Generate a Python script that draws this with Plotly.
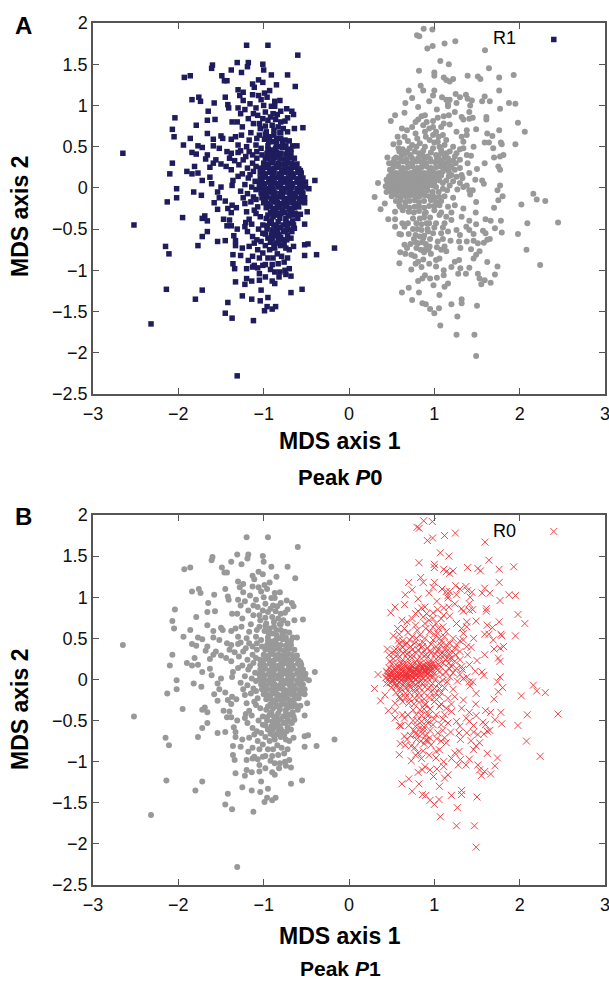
import plotly.graph_objects as go

left_sparse = [
(-1.20,1.73),(-0.95,1.73),(-0.60,1.61),(-1.60,1.49),(-1.61,1.45),(-1.31,1.52),(-1.18,1.52),(-1.19,1.47),(-1.01,1.50),(-1.00,1.43),
(-1.38,1.43),(-1.26,1.40),(-1.49,1.36),(-1.46,1.30),(-1.43,1.30),(-1.86,1.36),(-1.93,1.34),(-0.91,1.37),(-0.72,1.37),(-0.85,1.25),
(-0.63,1.23),(-1.06,1.31),(-1.01,1.28),(-1.13,1.26),(-1.11,1.22),(-1.30,1.19),(-1.24,1.16),(-1.28,1.12),(-1.13,1.13),(-1.06,1.12),
(-0.99,1.15),(-0.93,1.18),(-1.03,1.07),(-0.96,1.10),(-1.76,1.10),(-1.84,1.07),(-1.74,1.05),(-1.45,1.10),(-1.58,1.03),(-1.42,1.01),
(-1.41,0.97),(-1.24,1.06),(-0.87,1.05),(-0.81,1.06),(-0.91,0.99),(-0.87,0.99),(-1.30,0.97),(-1.22,0.95),(-1.09,0.97),(-1.65,0.93),
(-1.27,0.90),(-0.73,0.96),(-0.67,0.93),(-0.65,0.89),(-0.89,0.90),(-0.84,0.89),(-2.04,0.85),(-1.57,0.83),(-1.66,0.82),(-1.18,0.84),
(-1.07,0.88),(-1.01,0.84),(-0.95,0.82),(-0.72,0.85),(-0.75,0.81),(-1.37,0.80),(-1.31,0.80),(-1.79,0.76),(-1.25,0.74),(-1.05,0.78),
(-0.90,0.76),(-2.07,0.71),(-0.64,0.72),(-0.54,0.73),(-1.66,0.66),(-1.15,0.67),(-0.97,0.68),(-0.81,0.67),(-2.05,0.62),(-1.86,0.60),
(-1.50,0.63),(-1.48,0.60),(-1.59,0.59),(-1.38,0.59),(-1.33,0.62),(-1.26,0.64),(-1.05,0.64),(-0.93,0.62),(-1.17,0.58),(-1.94,0.52),
(-1.59,0.51),(-1.52,0.48),(-1.77,0.51),(-1.72,0.49),(-1.30,0.52),(-1.20,0.50),(-1.09,0.52),(-0.85,0.54),(-0.66,0.51),(-0.61,0.51),
(-2.65,0.42),(-1.84,0.43),(-1.79,0.41),(-1.66,0.40),(-1.68,0.35),(-1.43,0.44),(-1.38,0.42),(-1.30,0.43),(-1.17,0.44),(-1.40,0.36),
(-2.07,0.30),(-1.81,0.26),(-1.56,0.34),(-1.59,0.30),(-1.63,0.25),(-1.50,0.29),(-1.44,0.26),(-1.38,0.22),(-1.90,0.20),(-1.84,0.17),
(-1.77,0.18),(-2.10,0.17),(-1.63,0.13),(-1.72,0.09),(-1.61,0.05),(-1.36,0.09),(-1.37,0.03),(-1.50,0.01),(-1.54,-0.05),(-2.02,-0.01),
(-2.02,-0.12),(-1.82,-0.05),(-1.73,-0.09),(-2.13,-0.17),(-0.40,0.09),(-0.47,-0.01),(-0.51,0.07),
(-1.58,-0.18),(-1.54,-0.26),(-1.52,-0.12),(-1.45,-0.16),(-1.37,-0.21),(-1.32,-0.24),(-1.42,-0.25),(-1.38,-0.30),(-1.22,-0.19),(-1.20,-0.29),
(-1.11,-0.27),(-1.07,-0.23),(-1.95,-0.36),(-1.69,-0.34),(-1.72,-0.37),(-1.66,-0.40),(-2.52,-0.45),(-1.47,-0.38),(-1.40,-0.39),(-1.43,-0.46),
(-1.38,-0.46),(-1.31,-0.50),(-1.17,-0.38),(-1.21,-0.42),(-1.22,-0.47),(-1.19,-0.53),(-1.66,-0.53),(-1.72,-0.59),(-1.35,-0.58),(-1.33,-0.64),
(-1.33,-0.70),(-1.54,-0.65),(-1.45,-0.64),(-2.15,-0.71),(-1.77,-0.70),(-2.11,-0.80),(-1.36,-0.81),(-1.27,-0.82),(-1.25,-0.73),(-1.36,-0.92),
(-1.34,-0.98),(-1.20,-0.98),(-1.18,-0.88),(-1.13,-0.96),(-1.11,-0.94),(-1.33,-1.14),(-1.20,-1.10),(-1.22,-1.17),(-1.14,-1.13),(-1.05,-1.12),
(-1.05,-1.04),(-0.98,-1.08),(-0.90,-1.13),(-0.87,-1.16),(-2.14,-1.23),(-1.72,-1.24),(-1.03,-1.24),(-0.68,-1.27),(-0.55,-1.23),(-1.80,-1.35),
(-1.25,-1.31),(-1.14,-1.35),(-1.04,-1.37),(-0.95,-1.33),(-1.42,-1.39),(-0.96,-1.44),(-0.86,-1.44),(-0.90,-1.47),(-0.99,-1.49),(-1.45,-1.52),
(-1.37,-1.58),(-1.12,-1.61),(-2.32,-1.65),(-1.31,-2.28),(-0.17,-0.73),(-0.38,-0.81),(-0.52,-0.82),(-0.52,-0.69),(-0.48,-0.68),(-0.52,-0.44),
(-0.49,-0.29),(-0.60,-0.37),(-0.57,-0.32),(-0.64,-0.49),(-0.68,-0.61),(-0.65,-0.71),(-0.70,-0.75),(-0.72,-0.85),(-0.70,-0.98),(-0.68,-1.07),
(-0.75,-1.00),(-0.81,-1.02),(-0.87,-1.02),(-0.90,-0.93),(-0.83,-0.92),(-0.89,-0.85),(-0.79,-0.83),(-1.01,-0.94),(-1.05,-0.85),(-1.13,-0.83),
(-1.07,-0.75),(-1.01,-0.79),(-0.93,-0.75),(-1.17,-0.71),(-1.11,-0.67),(-1.03,-0.65),(-0.95,-0.61),(-0.85,-0.67),(-0.79,-0.63),(-0.74,-0.73),
(-0.87,-0.73),(-1.01,-0.55),(-1.13,-0.59),(-0.91,-0.57),(-0.77,-0.53),(-0.70,-0.51),(-1.01,-0.45),(-0.93,-0.43),(-0.85,-0.47),(-0.77,-0.45),
(-0.70,-0.43),(-0.97,-0.37),(-0.89,-0.35),(-0.81,-0.37),(-0.74,-0.37),(-0.66,-0.33),
(-1.04,0.72),(-0.98,0.75),(-0.88,0.70),(-0.83,0.74),(-0.77,0.72),(-0.72,0.68),(-0.99,0.59),(-0.90,0.56),(-0.80,0.60),(-0.75,0.58),
(-1.03,0.48),(-0.95,0.51),(-0.90,0.46),(-0.78,0.49),(-0.72,0.46),(-1.02,0.40),(-1.08,0.36),(-1.13,0.30),(-1.24,0.34),(-1.29,0.28),
(-1.19,0.24),(-1.12,0.20),(-1.25,0.17),(-1.18,0.12),(-1.10,0.08),(-1.22,0.04),(-1.14,0.01),(-1.27,-0.04),(-1.19,-0.07),(-1.12,-0.11),(-1.24,-0.12),(-1.15,-0.17),
(-1.08,0.44),(-1.13,0.40),(-1.21,0.38),(-1.27,0.45),(-1.34,0.33),(-1.09,0.26),(-1.16,0.16),(-1.30,0.14),(-1.09,-0.02),(-1.09,-0.14),
(-1.09,-0.31),(-1.04,-0.35),(-1.14,-0.44),(-1.06,-0.50),(-0.96,-0.50),(-0.88,-0.54),(-0.82,-0.57),(-0.92,-0.66),(-0.98,-0.70),(-0.80,-0.70),
(-0.72,-0.58),(-0.84,-0.80),(-0.95,-0.85),(-0.98,-0.93),(-0.76,-0.90),(-0.92,-0.99),(-1.07,-0.97),(-0.82,-1.08),(-0.74,-1.05),(-1.08,-0.63),
(-0.86,0.83),(-0.80,0.80),(-0.98,0.92),(-0.92,0.86),(-1.12,0.78),(-1.00,1.00),(-1.16,1.02),(-0.80,0.93),(-1.12,0.90),(-1.08,0.60),
]

left_dense = [
(-0.96,0.42),(-0.91,0.41),(-0.85,0.43),(-0.80,0.42),(-0.74,0.41),(-0.68,0.42),
(-0.98,0.36),(-0.92,0.35),(-0.87,0.37),(-0.81,0.36),(-0.76,0.35),(-0.70,0.37),(-0.64,0.36),
(-1.00,0.30),(-0.94,0.29),(-0.89,0.31),(-0.83,0.30),(-0.78,0.29),(-0.72,0.31),(-0.67,0.30),(-0.61,0.29),
(-1.04,0.24),(-0.98,0.25),(-0.93,0.23),(-0.87,0.24),(-0.82,0.25),(-0.76,0.23),(-0.71,0.24),(-0.65,0.25),(-0.59,0.23),
(-1.04,0.18),(-0.99,0.17),(-0.93,0.19),(-0.88,0.18),(-0.82,0.17),(-0.77,0.19),(-0.71,0.18),(-0.66,0.17),(-0.60,0.19),(-0.56,0.18),
(-1.04,0.12),(-0.98,0.13),(-0.93,0.11),(-0.87,0.12),(-0.82,0.13),(-0.76,0.11),(-0.71,0.12),(-0.65,0.13),(-0.60,0.11),(-0.54,0.12),
(-1.05,0.06),(-0.99,0.05),(-0.94,0.07),(-0.88,0.06),(-0.83,0.05),(-0.77,0.07),(-0.72,0.06),(-0.66,0.05),(-0.61,0.07),(-0.55,0.06),
(-1.05,0.00),(-1.00,0.01),(-0.94,-0.01),(-0.89,0.00),(-0.83,0.01),(-0.78,-0.01),(-0.72,0.00),(-0.67,0.01),(-0.61,-0.01),(-0.56,0.00),(-0.51,0.01),
(-1.03,-0.06),(-0.98,-0.07),(-0.92,-0.05),(-0.87,-0.06),(-0.81,-0.07),(-0.76,-0.05),(-0.70,-0.06),(-0.65,-0.07),(-0.59,-0.05),(-0.54,-0.06),
(-1.02,-0.12),(-0.96,-0.11),(-0.91,-0.13),(-0.85,-0.12),(-0.80,-0.11),(-0.74,-0.13),(-0.69,-0.12),(-0.63,-0.11),(-0.58,-0.13),(-0.52,-0.12),
(-1.00,-0.18),(-0.95,-0.19),(-0.89,-0.17),(-0.84,-0.18),(-0.78,-0.19),(-0.73,-0.17),(-0.67,-0.18),(-0.62,-0.19),(-0.56,-0.17),(-0.52,-0.18),
(-0.97,-0.24),(-0.92,-0.23),(-0.86,-0.25),(-0.81,-0.24),(-0.75,-0.23),(-0.70,-0.25),(-0.64,-0.24),(-0.59,-0.23),
(-0.92,-0.30),(-0.86,-0.29),(-0.80,-0.31),(-0.75,-0.30),(-0.69,-0.29),(-0.63,-0.31),
(-0.93,0.39),(-0.83,0.39),(-0.72,0.39),(-0.96,0.27),(-0.85,0.27),(-0.74,0.27),(-0.63,0.27),(-1.01,0.21),(-0.90,0.21),(-0.79,0.21),(-0.68,0.21),(-0.57,0.21),
(-1.01,0.15),(-0.90,0.15),(-0.79,0.15),(-0.68,0.15),(-0.57,0.15),(-1.02,0.09),(-0.91,0.09),(-0.80,0.09),(-0.69,0.09),(-0.58,0.09),(-1.03,0.03),(-0.92,0.03),(-0.80,0.03),(-0.69,0.03),(-0.58,0.03),
(-1.00,-0.03),(-0.89,-0.03),(-0.79,-0.03),(-0.68,-0.03),(-0.57,-0.03),(-1.00,-0.09),(-0.89,-0.09),(-0.78,-0.09),(-0.67,-0.09),(-0.56,-0.09),(-0.98,-0.15),(-0.87,-0.15),(-0.76,-0.15),(-0.65,-0.15),(-0.54,-0.15),
(-0.95,-0.21),(-0.84,-0.21),(-0.73,-0.21),(-0.61,-0.21),(-0.89,-0.27),(-0.78,-0.27),(-0.67,-0.27),
(-0.95,-0.33),(-0.84,-0.33),(-0.71,-0.34),(-0.91,-0.40),(-0.83,-0.41),(-0.74,-0.41),(-0.66,-0.40),(-0.96,-0.46),(-0.88,-0.45),(-0.80,-0.48),(-0.72,-0.47),(-0.65,-0.45),
(-0.90,-0.51),(-0.84,-0.52),(-0.74,-0.52),(-0.67,-0.53),(-0.98,-0.56),(-0.86,-0.58),(-0.80,-0.60),(-0.73,-0.63),(-0.90,-0.62),(-0.83,-0.64),(-0.76,-0.68),(-0.88,-0.69),
(-0.95,0.47),(-0.86,0.48),(-0.82,0.50),(-0.74,0.51),(-0.68,0.47),(-0.94,0.56),(-0.85,0.60),(-0.78,0.55),(-0.70,0.57),(-0.98,0.65),(-0.88,0.64),(-0.80,0.67),
]

right_sparse = [
(0.875,1.93),(0.977,1.92),(0.797,1.85),(0.824,1.84),(0.918,1.69),(0.98,1.72),(1.12,1.75),(1.246,1.78),(1.594,1.67),(1.07,1.54),
(1.17,1.50),(1.64,1.45),(0.82,1.42),(1.0,1.40),(1.0,1.36),(1.11,1.34),(1.14,1.31),(1.18,1.29),(1.22,1.32),(1.39,1.36),
(1.51,1.35),(1.54,1.32),(1.76,1.34),(1.93,1.37),(0.84,1.24),(0.70,1.18),(0.87,1.18),(1.0,1.18),(0.985,1.12),(1.76,1.18),
(0.74,1.09),(0.94,1.05),(0.66,1.03),(1.09,1.10),(1.14,1.07),(1.18,1.07),(1.16,1.02),(1.16,0.99),(1.25,1.14),(1.30,1.10),
(1.26,1.03),(1.37,1.13),(1.39,1.08),(1.44,1.06),(1.42,1.0),(1.59,1.11),(1.56,1.05),(1.65,1.05),(1.875,1.03),(1.95,1.02),
(1.77,0.96),(0.81,0.98),(1.03,0.95),(0.65,0.91),(0.54,0.88),(0.49,0.81),(1.24,0.92),(1.41,0.92),(0.85,0.87),(0.89,0.88),
(0.81,0.83),(0.78,0.80),(0.91,0.80),(0.985,0.81),(1.04,0.85),(1.11,0.87),(1.17,0.88),(1.32,0.86),(1.34,0.83),(1.41,0.84),
(1.45,0.85),(1.61,0.86),(1.61,0.83),(1.98,0.79),(0.74,0.74),(0.62,0.72),(0.87,0.76),(0.985,0.74),(1.08,0.74),(1.18,0.77),
(1.11,0.78),(1.26,0.68),(1.38,0.70),(1.49,0.71),(1.76,0.70),(2.06,0.68),(0.78,0.66),(0.89,0.68),(0.985,0.64),(1.10,0.64),
(0.57,0.62),(0.65,0.62),(1.62,0.66),(1.68,0.63),(1.32,0.62),(1.38,0.64),(1.34,0.56),(0.69,0.57),(0.59,0.55),(0.52,0.53),
(0.83,0.54),(0.945,0.58),(1.04,0.56),(1.14,0.58),(1.59,0.55),(1.64,0.55),(1.78,0.55),(1.79,0.53),(1.95,0.53),(1.46,0.50),
(1.69,0.48),(1.34,0.48),(0.59,0.44),(0.63,0.47),(0.71,0.48),(0.79,0.50),(0.89,0.50),(0.985,0.48),(1.08,0.46),(1.18,0.44),
(1.26,0.42),(1.38,0.40),(1.43,0.39),(1.70,0.37),(1.77,0.38),(1.81,0.40),(0.45,0.37),(0.47,0.30),(1.59,0.30),(1.75,0.26),
(1.77,0.22),(0.48,0.22),(1.30,0.34),(1.39,0.30),(1.50,0.23),(1.41,0.18),(1.48,0.10),(1.56,0.09),(1.58,0.05),(0.34,0.06),
(0.44,0.10),(0.44,-0.05),(0.30,-0.11),(1.77,0.03),(1.74,-0.03),(1.80,-0.10),(1.75,-0.15),(1.34,0.01),(1.38,0.03),(1.41,-0.03),
(1.45,-0.03),(1.42,-0.08),(1.49,-0.17),(2.16,-0.07),(2.20,-0.14),(2.30,-0.16),(2.02,-0.20),(1.70,-0.24),(1.20,0.155),(1.26,0.135),
(1.32,0.155),(0.37,-0.26),(0.42,-0.19),(0.46,-0.38),(0.54,-0.38),(0.54,-0.47),(0.59,-0.56),(0.61,-0.565),(0.70,-0.56),(0.625,-0.43),
(0.65,-0.69),(0.68,-0.73),(0.60,-0.78),(0.59,-0.915),(0.73,-0.99),(0.73,-0.81),(0.77,-0.83),(0.81,-0.895),(0.87,-0.87),(0.94,-0.92),
(0.85,-0.96),(0.89,-1.06),(0.86,-1.10),(0.81,-1.13),(0.95,-1.10),(1.03,-1.09),(0.70,-1.21),(0.62,-1.27),(0.82,-1.27),(0.99,-1.18),
(1.12,-1.20),(1.16,-1.16),(1.06,-1.30),(0.74,-1.36),(0.86,-1.40),(0.90,-1.41),(0.95,-1.47),(1.055,-1.46),(1.0,-1.52),(1.20,-1.41),
(1.32,-1.35),(1.32,-1.40),(1.50,-1.43),(1.27,-1.56),(1.07,-1.67),(1.26,-1.78),(1.47,-1.78),(1.49,-2.04),(2.45,-0.42),(2.24,-0.935),
(2.08,-0.75),(1.98,-0.56),(2.09,-0.43),(1.79,-0.54),(1.78,-0.40),(1.71,-0.49),(1.66,-0.40),(1.60,-0.38),(1.49,-0.44),(1.485,-0.30),
(1.34,-0.25),(1.32,-0.35),(1.41,-0.40),(1.375,-0.47),(1.41,-0.51),(1.46,-0.56),(1.57,-0.52),(1.60,-0.55),(1.65,-0.62),(1.62,-0.63),
(1.58,-0.665),(1.46,-0.64),(1.51,-0.67),(1.38,-0.65),(1.29,-0.65),(1.305,-0.73),(1.43,-0.745),(1.53,-0.77),(1.49,-0.81),(1.46,-0.855),
(1.62,-0.90),(1.74,-0.955),(1.71,-1.05),(1.66,-1.15),(1.59,-1.12),(1.55,-1.17),(1.53,-1.10),(1.51,-1.04),(1.41,-0.97),(1.37,-1.04),
(1.28,-1.04),(1.305,-0.975),(1.29,-0.875),(1.24,-0.895),(1.20,-0.96),(1.11,-1.0),(1.11,-1.06),(1.14,-0.77),(1.12,-0.71),(1.19,-0.64),
(1.04,-0.65),(1.03,-0.72),(0.945,-0.71),(0.93,-0.75),(1.02,-0.875),(1.06,-0.855),(1.02,-0.955),(1.26,-0.51),(1.30,-0.57),(1.16,-0.53),
(1.08,-0.55),(0.985,-0.55),(1.02,-0.43),(1.12,-0.43),(1.20,-0.39),(1.06,-0.33),(1.14,-0.35),(1.24,-0.21),(1.16,-0.23),(1.06,-0.21),
(1.0,-0.27),(0.887,-0.31),(0.91,-0.43),(0.925,-0.53),(0.85,-0.51),(0.83,-0.59),(0.87,-0.61),(0.81,-0.67),(0.79,-0.73),(0.84,-0.75),
(0.75,-0.37),(0.69,-0.43),(0.65,-0.47),(0.79,-0.43),(0.83,-0.37),(0.63,-0.27),(0.54,-0.29),(0.59,-0.21),
(0.72,0.40),(0.82,0.42),(0.92,0.38),(1.02,0.40),(1.12,0.37),(1.22,0.33),(1.30,0.24),(1.24,0.22),(1.33,0.12),(1.10,0.06),(1.18,0.03),(1.27,-0.02),(1.12,-0.10),(1.22,-0.12),
(0.62,0.40),(0.55,0.37),(0.68,0.44),(0.77,0.44),(0.87,0.45),(0.96,0.43),(1.05,0.36),(1.16,0.36),(1.20,0.26),(1.25,0.30),
(1.17,0.20),(1.22,0.08),(1.30,0.06),(1.15,-0.03),(1.08,-0.30),(1.20,-0.30),(0.95,-0.36),(1.00,-0.48),(1.10,-0.48),(0.75,-0.50),
(0.95,-0.62),(0.90,-0.68),(1.10,-0.62),(0.76,-0.62),(0.72,-0.68),(1.08,-0.75),(0.96,-0.80),(0.88,-0.78),(0.66,-0.80),(0.78,-0.92),
(0.74,0.52),(0.80,0.60),(0.90,0.62),(1.00,0.55),(1.06,0.50),(1.12,0.52),(1.22,0.50),(0.66,0.42),(0.58,0.48),(0.86,0.40),
(1.08,0.42),(1.14,0.42),(1.24,0.38),(0.68,0.70),(0.94,0.72),(1.02,0.68),(1.05,0.62),(1.30,0.47),
]

right_dense = [
(0.52,0.31),(0.57,0.30),(0.63,0.32),(0.68,0.31),(0.74,0.30),(0.79,0.32),(0.85,0.31),(0.90,0.30),(0.96,0.32),(1.01,0.31),(1.07,0.30),(1.12,0.29),
(0.52,0.25),(0.58,0.26),(0.63,0.24),(0.69,0.25),(0.74,0.26),(0.80,0.24),(0.85,0.25),(0.91,0.26),(0.96,0.24),(1.02,0.25),(1.07,0.26),(1.13,0.24),
(0.50,0.19),(0.55,0.18),(0.61,0.20),(0.66,0.19),(0.72,0.18),(0.77,0.20),(0.83,0.19),(0.88,0.18),(0.94,0.20),(0.99,0.19),(1.05,0.18),(1.10,0.20),
(0.47,0.14),(0.53,0.13),(0.58,0.15),(0.64,0.14),(0.69,0.13),(0.75,0.15),(0.80,0.14),(0.86,0.13),(0.91,0.15),(0.97,0.14),(1.02,0.13),(1.08,0.15),(0.73,0.11),(0.84,0.11),(0.95,0.10),
(0.45,0.08),(0.50,0.07),(0.56,0.09),(0.61,0.08),(0.67,0.07),(0.72,0.09),(0.78,0.08),(0.83,0.07),(0.89,0.09),(0.94,0.08),(0.62,0.05),(0.70,0.04),
(0.43,0.02),(0.48,0.03),(0.54,0.01),(0.59,0.02),(0.65,0.03),(0.70,0.01),(0.76,0.02),(0.81,0.03),(0.87,0.01),(0.92,0.02),(0.98,0.03),(0.46,0.00),(0.52,-0.01),
(0.48,-0.04),(0.53,-0.05),(0.59,-0.03),(0.64,-0.04),(0.70,-0.05),(0.75,-0.03),(0.81,-0.04),(0.86,-0.05),(0.92,-0.03),(1.05,-0.05),
(0.50,-0.10),(0.56,-0.09),(0.61,-0.11),(0.67,-0.10),(0.72,-0.09),(0.78,-0.11),(0.83,-0.10),(0.89,-0.09),(1.00,-0.11),
(0.55,-0.16),(0.60,-0.15),(0.66,-0.17),(0.71,-0.16),(0.77,-0.15),(0.82,-0.17),(0.88,-0.16),(0.96,-0.15),(1.08,-0.16),
(0.60,-0.23),(0.66,-0.22),(0.71,-0.24),(0.77,-0.23),(0.82,-0.22),(0.88,-0.24),(0.94,-0.22),
(0.70,-0.29),(0.76,-0.30),(0.82,-0.28),(0.88,-0.36),(0.85,-0.44),(0.88,-0.58),
(0.50,0.04),(0.55,0.05),(0.60,0.06),(0.66,0.05),(0.72,0.05),(0.78,0.05),(0.84,0.06),(0.90,0.05),(0.52,0.10),(0.58,0.11),(0.64,0.10),(0.70,0.11),(0.76,0.10),(0.82,0.10),(0.88,0.11),(0.94,0.13),
(0.55,0.00),(0.61,-0.01),(0.67,0.00),(0.73,-0.01),(0.79,0.00),(0.85,-0.01),(0.60,0.16),(0.67,0.16),(0.74,0.17),(0.81,0.17),(0.88,0.16),(0.95,0.17),(1.02,0.16),(0.56,-0.07),(0.63,-0.07),(0.70,-0.08),(0.77,-0.07),
(0.53,0.35),(0.60,0.36),(0.67,0.35),(0.74,0.36),(0.81,0.36),(0.88,0.35),(0.95,0.35),(1.03,0.35),(1.10,0.33),(1.17,0.31),(1.18,0.25),(1.17,0.14),(1.14,0.09),(1.00,0.07),(1.06,0.09),
(0.95,0.04),(1.02,0.01),(1.10,-0.01),(0.98,-0.05),(0.94,-0.10),(1.06,-0.11),(1.02,-0.17),(0.90,-0.30),(1.00,-0.22),(0.94,-0.43),(0.80,-0.50),(0.78,-0.57),(0.92,-0.50),(0.86,-0.66),(0.78,-0.66),(0.90,-0.74),
(0.46,0.04),(0.49,0.09),(0.53,0.02),(0.57,0.07),(0.60,0.02),(0.63,0.09),(0.68,0.05),(0.71,0.12),(0.75,0.07),(0.79,0.12),(0.83,0.09),(0.86,0.15),(0.90,0.11),(0.93,0.17),(0.97,0.11),(1.00,0.16),
(0.51,-0.02),(0.56,0.03),(0.63,0.01),(0.68,0.08),(0.74,0.03),(0.80,0.07),(0.85,0.03),(0.91,0.08),(0.48,0.06),(0.54,0.12),(0.61,0.12),(0.67,0.02),(0.72,0.14),(0.77,0.13),(0.85,0.16),(0.92,0.13),
]

legend_point = (2.4, 1.8)
legend_labels = ["R1", "R0"]
x_ticks = [-3, -2, -1, 0, 1, 2, 3]
y_ticks = [2, 1.5, 1, 0.5, 0, -0.5, -1, -1.5, -2, -2.5]

W, H = 609, 983
L, R = 93, 605
A_T, A_B = 23, 394
B_T, B_B = 515, 885
FONT = "Liberation Sans"
BLUE, GREY, RED, AXIS = "#1f1c5e", "#999999", "#ee2f34", "#555555"

left = left_sparse + left_dense
right = right_sparse + right_dense
def xs(p): return [q[0] for q in p]
def ys(p): return [q[1] for q in p]

square = dict(symbol="square", size=5.5, color=BLUE)
dot = dict(symbol="circle", size=6, color=GREY)
cross = dict(symbol="x-thin", size=7, color=RED, line=dict(color=RED, width=0.9))

fig = go.Figure()
fig.add_trace(go.Scatter(x=xs(left), y=ys(left), mode="markers", marker=square, xaxis="x", yaxis="y", name="R1"))
fig.add_trace(go.Scatter(x=xs(right), y=ys(right), mode="markers", marker=dot, xaxis="x", yaxis="y", name="other"))
fig.add_trace(go.Scatter(x=[legend_point[0]], y=[legend_point[1]], mode="markers", marker=square, xaxis="x", yaxis="y", name="R1 key"))
fig.add_trace(go.Scatter(x=xs(left), y=ys(left), mode="markers", marker=dot, xaxis="x2", yaxis="y2", name="other"))
fig.add_trace(go.Scatter(x=xs(right), y=ys(right), mode="markers", marker=cross, xaxis="x2", yaxis="y2", name="R0"))
fig.add_trace(go.Scatter(x=[legend_point[0]], y=[legend_point[1]], mode="markers", marker=cross, xaxis="x2", yaxis="y2", name="R0 key"))

axis_common = dict(
    showgrid=False, zeroline=False, showline=True, mirror="allticks", automargin=False,
    linecolor=AXIS, linewidth=1.5, ticks="inside", ticklen=6, tickcolor=AXIS, tickwidth=1,
    tickfont=dict(family=FONT, size=18, color="#111111"), ticklabeloverflow="allow",
)
def xaxis(anchor):
    return dict(axis_common, domain=[L / W, R / W], range=[-3, 3], tickvals=x_ticks, anchor=anchor, ticklabelstandoff=3)
def yaxis(anchor, top, bottom):
    return dict(axis_common, domain=[1 - bottom / H, 1 - top / H], range=[-2.5, 2], tickvals=y_ticks, anchor=anchor)

def note(text, px, py, size, **kw):
    return dict(text=text, x=px / W, y=1 - py / H, xref="paper", yref="paper", showarrow=False,
                xanchor="center", yanchor="middle", font=dict(family=FONT, size=size, color="#000000"), **kw)

fig.update_layout(
    width=W, height=H, margin=dict(l=0, r=0, t=0, b=0), showlegend=False,
    paper_bgcolor="white", plot_bgcolor="white",
    xaxis=xaxis("y"), yaxis=yaxis("x", A_T, A_B),
    xaxis2=xaxis("y2"), yaxis2=yaxis("x2", B_T, B_B),
    annotations=[
        note("<b>A</b>", 23, 26, 24),
        note("<b>B</b>", 23, 516, 24),
        note("<b>MDS axis 1</b>", 340, 441, 23),
        note("<b>MDS axis 1</b>", 340, 936, 23),
        note("<b>MDS axis 2</b>", 20, 217, 23, textangle=-90),
        note("<b>MDS axis 2</b>", 20, 710, 23, textangle=-90),
        note("<b>Peak <i>P</i>0</b>", 340, 477, 22),
        note("<b>Peak <i>P</i>1</b>", 340, 968, 21),
        note(legend_labels[0], 504, 38, 18),
        note(legend_labels[1], 504, 531, 18),
    ],
)
fig.write_html("out.html", config={"displayModeBar": False},
               post_script="document.body.style.margin='0';document.documentElement.style.overflow='hidden';")
